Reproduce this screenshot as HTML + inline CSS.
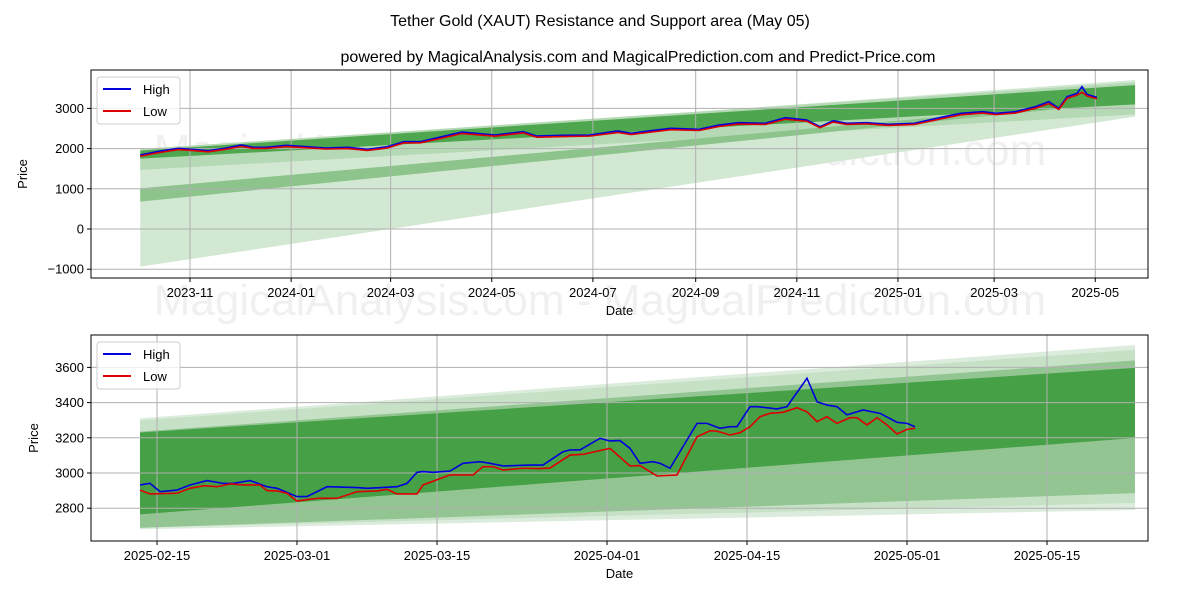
<!DOCTYPE html>
<html><head><meta charset="utf-8"><style>
body{margin:0;background:#fff;}
svg{display:block;font-family:"Liberation Sans","DejaVu Sans",sans-serif;}
</style></head><body>
<svg id="chart" width="1200" height="600" viewBox="0 0 1200 600">
<text x="600" y="26" text-anchor="middle" font-size="16">Tether Gold (XAUT) Resistance and Support area (May 05)</text>
<text x="638" y="62" text-anchor="middle" font-size="16">powered by MagicalAnalysis.com and MagicalPrediction.com and Predict-Price.com</text>
</svg>
<script>
// ---- Top panel data (days since 2023-11-01) ----
const topDays=[-30,-20,-7,1,11,21,31,38,46,58,70,82,95,107,119,129,139,152,164,172,184,201,209,225,241,258,266,278,290,307,319,331,347,359,372,380,388,396,408,421,437,453,465,478,486,498,510,518,524,529,535,538,541,547];
const topHigh=[1841,1924,2007,1982,1948,2007,2090,2032,2032,2082,2048,2015,2032,1982,2048,2172,2172,2297,2413,2380,2338,2421,2313,2330,2338,2438,2380,2446,2504,2480,2587,2645,2629,2769,2711,2545,2695,2629,2645,2604,2629,2778,2877,2919,2877,2919,3043,3167,3002,3292,3375,3541,3350,3275];
const topLow=[1810,1890,1975,1955,1920,1980,2055,2005,2005,2050,2020,1990,2000,1955,2015,2140,2145,2260,2375,2350,2310,2390,2285,2300,2310,2400,2350,2410,2470,2450,2550,2610,2600,2730,2680,2520,2660,2600,2615,2575,2600,2740,2840,2885,2845,2885,3005,3120,2975,3250,3330,3400,3310,3240];
const topTicks=[-1000,0,1000,2000,3000];
const topDateTicks=["2023-11","2024-01","2024-03","2024-05","2024-07","2024-09","2024-11","2025-01","2025-03","2025-05"];
const topDateTickDays=[0,61,121,182,243,305,366,427,485,546];
const topBandDays=[-30,570];
const topBandTop=[[1920,3706],[1990,3650],[1012,3220],[1950,3580]];
const topBandBot=[[-937,2794],[1470,2850],[680,3180],[1750,3100]];
const topBandColors=["#d2e8d2","#b5d9b5","#8cc48c","#4ea64e"];

// ---- Bottom panel data (days since 2025-02-15) ----
const botHighDays=[-1.7,-0.7,0.3,2,3.3,5,6.6,7.6,9.3,11,12,14,15,17,20,21,24,25,26,26.6,27.6,29.3,30.6,32.3,33.3,34.6,37.3,38.6,40.6,41.3,42.3,44.3,45.3,46.3,47.3,48.3,49.6,50.3,51.3,54,55,56.3,57.3,58,59.3,60,62,63,65,66,67,68,69,70.6,72.3,74,75,75.8];
const botHigh=[2932,2941,2894,2903,2932,2957,2941,2941,2957,2922,2913,2866,2866,2922,2917,2913,2922,2941,3004,3008,3004,3011,3055,3064,3055,3040,3045,3045,3121,3131,3131,3197,3182,3184,3140,3055,3064,3055,3027,3282,3282,3254,3263,3263,3377,3377,3364,3377,3538,3405,3386,3377,3330,3358,3339,3288,3282,3263];
const botLowDays=[-1.7,-0.7,2,3.3,4.7,6,7.3,8.7,10.3,11,12,13,14,16,18,20,22,23,24,26,26.6,29.3,31.6,32.6,33.6,34.6,36.6,38.3,39.3,41.3,42.6,45.3,47.3,48.3,50,52,54,55.3,56,57.3,58.3,59.3,60.3,61.3,62.6,64,65,66,67,68,69.3,70,71,72,73,74,75,75.8];
const botLow=[2903,2881,2885,2913,2928,2922,2938,2932,2932,2900,2898,2885,2841,2856,2856,2894,2898,2907,2881,2881,2932,2989,2989,3036,3036,3017,3027,3025,3028,3102,3106,3140,3040,3042,2983,2989,3206,3240,3238,3216,3229,3263,3320,3339,3345,3371,3348,3292,3320,3282,3314,3314,3273,3314,3273,3222,3248,3254];
const botTicks=[2800,3000,3200,3400,3600];
const botDateTicks=["2025-02-15","2025-03-01","2025-03-15","2025-04-01","2025-04-15","2025-05-01","2025-05-15"];
const botDateTickDays=[0,14,28,45,59,75,89];
const botBandDays=[-1.7,97.8];
const botBandTop=[[3311,3727],[3300,3700],[3235,3640],[3230,3597]];
const botBandBot=[[2680,2790],[2690,2830],[2688,2886],[2765,3199]];
const botBandColors=["#dcecdc","#c6e1c6","#93c593","#46a046"];

const NS="http://www.w3.org/2000/svg";
const svg=document.getElementById('chart');
function mk(tag,attrs,parent){const e=document.createElementNS(NS,tag);for(const k in attrs)e.setAttribute(k,attrs[k]);(parent||svg).appendChild(e);return e;}

function panel(p){
  const g=mk('g',{});
  
  
  const xs=d=>p.x0+(d-p.d0)*p.pxDay;
  const ys=v=>p.yRef-(v-p.vRef)*p.pxVal;
  const wm=mk('text',{x:600,y:p.wmY,'text-anchor':'middle','font-size':44,fill:'rgba(128,128,128,0.12)'},g);
  wm.textContent="MagicalAnalysis.com - MagicalPrediction.com";
  
  
  p.bandTop.forEach((t,i)=>{
    const b=p.bandBot[i];
    const pts=[[xs(p.bandDays[0]),ys(t[0])],[xs(p.bandDays[1]),ys(t[1])],[xs(p.bandDays[1]),ys(b[1])],[xs(p.bandDays[0]),ys(b[0])]];
    const poly=mk('polygon',{points:pts.map(q=>q.join(',')).join(' '),fill:p.bandColors[i]},g);
    
    
  });
  p.yTicks.forEach(v=>{
    const y=ys(v);
    const l=mk('line',{x1:p.L,x2:p.R,y1:y,y2:y,stroke:'#b0b0b0','stroke-width':1},g);
    
    
    mk('line',{x1:p.L-4,x2:p.L,y1:y,y2:y,stroke:'#000'},g);
    const t=mk('text',{x:p.L-7,y:y+4.5,'text-anchor':'end','font-size':13},g);
    t.textContent=v<0?'\u2212'+Math.abs(v):String(v);
    
    
  });
  p.xTicks.forEach((lab,i)=>{
    const x=xs(p.xTickDays[i]);
    const l=mk('line',{x1:x,x2:x,y1:p.T,y2:p.B,stroke:'#b0b0b0','stroke-width':1},g);
    
    
    mk('line',{x1:x,x2:x,y1:p.B,y2:p.B+4,stroke:'#000'},g);
    const t=mk('text',{x:x,y:p.B+19,'text-anchor':'middle','font-size':13},g);
    t.textContent=lab;
    
    
  });
  const hp=mk('polyline',{points:p.hDays.map((d,i)=>xs(d)+','+ys(p.high[i])).join(' '),fill:'none',stroke:'#0000dd','stroke-width':1.6},g);
  
  
  const lp=mk('polyline',{points:p.lDays.map((d,i)=>xs(d)+','+ys(p.low[i])).join(' '),fill:'none',stroke:'#dd0000','stroke-width':1.6},g);
  
  
  const fr=mk('rect',{x:p.L,y:p.T,width:p.R-p.L,height:p.B-p.T,fill:'none',stroke:'#000','stroke-width':1},g);
  
  
  const xl=mk('text',{x:(p.L+p.R)/2,y:p.B+37,'text-anchor':'middle','font-size':13},g);
  xl.textContent='Date';
  
  
  const yl=mk('text',{x:0,y:0,'text-anchor':'middle','font-size':13,transform:`translate(${p.yLabX},${(p.T+p.B)/2}) rotate(-90)`},g);
  yl.textContent='Price';
  
  
  const lg=mk('g',{},g);
  
  
  mk('rect',{x:p.L+6,y:p.T+7,width:83,height:47,rx:3,fill:'rgba(255,255,255,0.8)',stroke:'#ccc'},lg);
  [['High','#0000dd'],['Low','#dd0000']].forEach((e,i)=>{
    const y=p.T+19+i*22;
    mk('line',{x1:p.L+12,x2:p.L+40,y1:y,y2:y,stroke:e[1],'stroke-width':2},lg);
    const t=mk('text',{x:p.L+52,y:y+5,'font-size':13},lg);
    t.textContent=e[0];
    
    
  });
}

panel({name:'top-panel',L:91,R:1148,T:70,B:278,x0:190,d0:0,pxDay:1.658,yRef:229,vRef:0,pxVal:0.0402,
  yTicks:topTicks,xTicks:topDateTicks,xTickDays:topDateTickDays,bandDays:topBandDays,bandTop:topBandTop,bandBot:topBandBot,bandColors:topBandColors,
  hDays:topDays,high:topHigh,lDays:topDays,low:topLow,wmY:165,yLabX:27});
panel({name:'bottom-panel',L:91,R:1148,T:335,B:541,x0:157,d0:0,pxDay:10,yRef:473,vRef:3000,pxVal:0.176,
  yTicks:botTicks,xTicks:botDateTicks,xTickDays:botDateTickDays,bandDays:botBandDays,bandTop:botBandTop,bandBot:botBandBot,bandColors:botBandColors,
  hDays:botHighDays,high:botHigh,lDays:botLowDays,low:botLow,wmY:465,yLabX:38});
const wm2=mk('text',{x:600,y:315,'text-anchor':'middle','font-size':44,fill:'rgba(128,128,128,0.12)'});
wm2.textContent="MagicalAnalysis.com - MagicalPrediction.com";


</script>
</body></html>
